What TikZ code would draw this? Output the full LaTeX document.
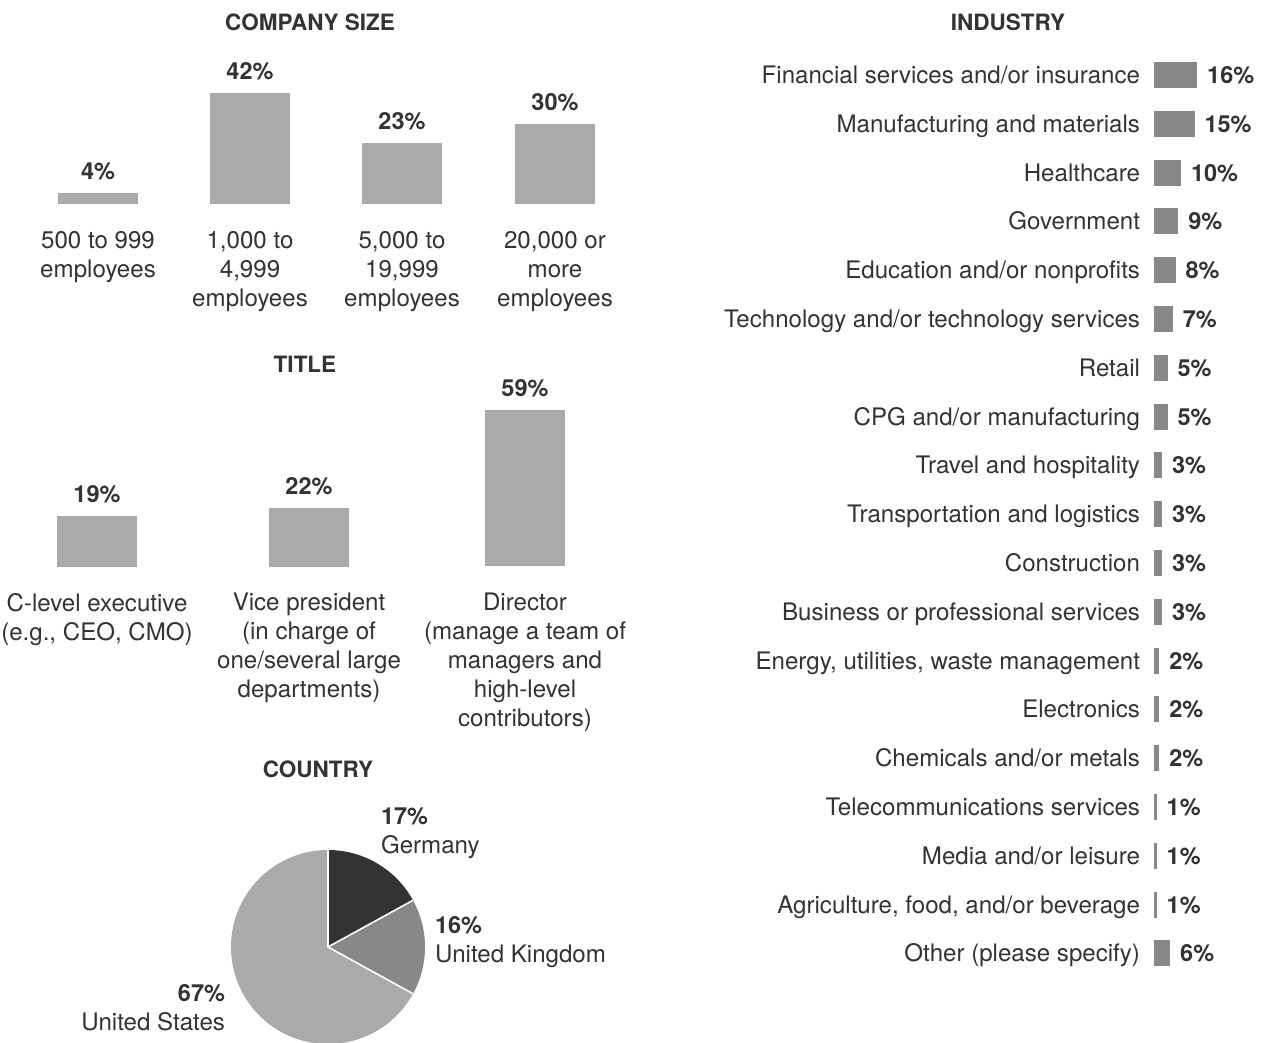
\documentclass[tikz,border=0pt]{standalone}
\usepackage{fontspec}
\setmainfont{TeX Gyre Heros}
\definecolor{txt}{HTML}{333333}
\definecolor{barlight}{HTML}{AAAAAA}
\definecolor{bardark}{HTML}{888888}
\definecolor{pieger}{HTML}{333333}
\definecolor{pieuk}{HTML}{888888}
\definecolor{pieus}{HTML}{AAAAAA}
\begin{document}
\begin{tikzpicture}[x=1pt,y=-1pt,
  every node/.style={inner sep=0pt, outer sep=0pt, text=txt},
  lab/.style={font=\fontsize{24.1pt}{29pt}\selectfont},
  mlab/.style={lab, align=center, anchor=north},
  pct/.style={font=\fontsize{23.5pt}{28pt}\selectfont\bfseries},
  ttl/.style={font=\fontsize{22.5pt}{26pt}\selectfont\bfseries, anchor=base},
  vbar/.style={fill=barlight, minimum width=80pt, anchor=south},
  hbar/.style={fill=bardark, minimum height=26pt, anchor=west}]
\useasboundingbox[fill=white] (0,0) rectangle (1267,1042);

% ---------- COMPANY SIZE ----------
\node[ttl] (tcs) at (310,30) {COMPANY SIZE};
\node[vbar, minimum height=11pt]  (cs1) at (98,204) {};
\node[vbar, minimum height=111pt] (cs2) at (250,204) {};
\node[vbar, minimum height=61pt]  (cs3) at (402,204) {};
\node[vbar, minimum height=80pt]  (cs4) at (555,204) {};
\path (cs1.north) ++(0,-14) node[pct, anchor=base] (pcs1) {4\%};
\path (cs2.north) ++(0,-14) node[pct, anchor=base] (pcs2) {42\%};
\path (cs3.north) ++(0,-14) node[pct, anchor=base] (pcs3) {23\%};
\path (cs4.north) ++(0,-14) node[pct, anchor=base] (pcs4) {30\%};
\node[mlab] (lcs1) at (98,231.4)  {500 to 999\\employees};
\node[mlab] (lcs2) at (250,231.4) {1,000 to\\4,999\\employees};
\node[mlab] (lcs3) at (402,231.4) {5,000 to\\19,999\\employees};
\node[mlab] (lcs4) at (555,231.4) {20,000 or\\more\\employees};

% ---------- TITLE ----------
\node[ttl] (tti) at (305,372) {TITLE};
\node[vbar, minimum height=51pt]  (ti1) at (97,567) {};
\node[vbar, minimum height=59pt]  (ti2) at (309,567) {};
\node[vbar, minimum height=156pt] (ti3) at (525,566) {};
\path (ti1.north) ++(0,-14) node[pct, anchor=base] (pti1) {19\%};
\path (ti2.north) ++(0,-14) node[pct, anchor=base] (pti2) {22\%};
\path (ti3.north) ++(0,-14) node[pct, anchor=base] (pti3) {59\%};
\node[mlab] (lti1) at (97,593.3)  {C-level executive\\(e.g., CEO, CMO)};
\node[mlab] (lti2) at (309,593.3) {Vice president\\(in charge of\\one/several large\\departments)};
\node[mlab] (lti3) at (525,593.3) {Director\\(manage a team of\\managers and\\high-level\\contributors)};

% ---------- COUNTRY ----------
\node[ttl] (tco) at (318,777) {COUNTRY};
\coordinate (pc) at (328,947);
\fill[pieus]  (pc) -- ++(28.8:97) arc[start angle=28.8, end angle=270, radius=97] -- cycle;
\fill[pieger] (pc) -- ++(-90:97) arc[start angle=-90, end angle=-28.8, radius=97] -- cycle;
\fill[pieuk]  (pc) -- ++(-28.8:97) arc[start angle=-28.8, end angle=28.8, radius=97] -- cycle;
\draw[white, line width=1.6pt] (pc) -- ++(-90:97) (pc) -- ++(-28.8:97) (pc) -- ++(28.8:97);
\node[pct, anchor=base west] (pge) at (381,824) {17\%};
\node[lab, anchor=base west] (lge) at (381,853) {Germany};
\node[pct, anchor=base west] (puk) at (435,933) {16\%};
\node[lab, anchor=base west] (luk) at (435,962) {United Kingdom};
\node[pct, anchor=base east] (pus) at (225,1001) {67\%};
\node[lab, anchor=base east] (lus) at (225,1030) {United States};

% ---------- INDUSTRY ----------
\node[ttl] (tin) at (1008,30) {INDUSTRY};
\foreach \v/\lab [count=\i from 0] in {
  16/{Financial services and/or insurance},
  15/{Manufacturing and materials},
  10/{Healthcare},
  9/{Government},
  8/{Education and/or nonprofits},
  7/{Technology and/or technology services},
  5/{Retail},
  5/{CPG and/or manufacturing},
  3/{Travel and hospitality},
  3/{Transportation and logistics},
  3/{Construction},
  3/{Business or professional services},
  2/{Energy, utilities, waste management},
  2/{Electronics},
  2/{Chemicals and/or metals},
  1/{Telecommunications services},
  1/{Media and/or leisure},
  1/{Agriculture, food, and/or beverage},
  6/{Other (please specify)}}{
  \node[hbar, minimum width={2.7pt*\v}] (ib\i) at (1154,{75+48.8*\i}) {};
  \node[lab, anchor=base east] (il\i) at (1140,{83.5+48.8*\i}) {\lab};
  \path (ib\i.east) ++(10,8.5) node[pct, anchor=base west] (ip\i) {\v\%};
}
\end{tikzpicture}
\end{document}
